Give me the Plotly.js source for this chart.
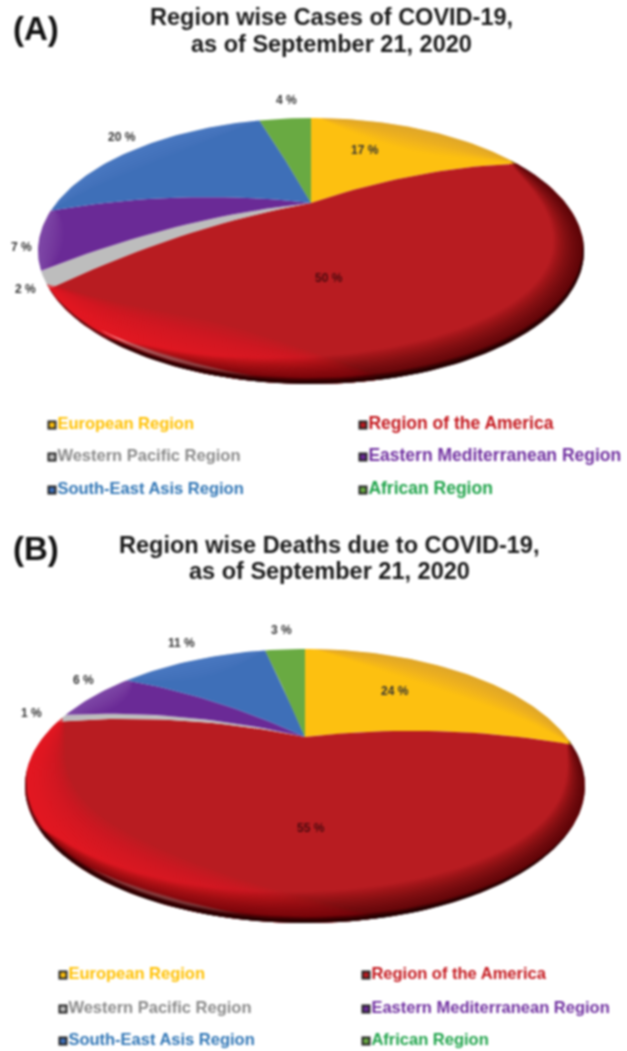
<!DOCTYPE html>
<html>
<head>
<meta charset="utf-8">
<script src="https://cdn.plot.ly/plotly-3.0.1.min.js"></script>
<style>html,body{margin:0;padding:0;background:#fff}#chart{width:627px;height:1051px;filter:blur(0.9px)}</style>
</head>
<body>
<div id="chart"></div>
<script>
// ---- data ----
const categories = ["European Region","Region of the America","Western Pacific Region","Eastern Mediterranean Region","South-East Asis Region","African Region"];
const casesPct  = [17,50,2,7,20,4];
const deathsPct = [24,55,1,6,11,3];
const sliceColors  = ["#fdc010","#b81c21","#bdbdbd","#6a2a96","#3e6fb8","#69aa42"];
const legendColors = ["#ffc000","#c4161c","#8a8a8a","#7030a0","#2f75b5","#1fa34a"];

// ---- layout of the two panels (pixels of the page) ----
const panels = [
 {values:casesPct, cx:311, cy:251, a:273, b:133, apexY:203,
  tag:"(A)", tagXY:[36,28], title:["Region wise Cases of COVID-19,","as of September 21, 2020"], titleXY:[331,17,44],
  labelXY:[[365,150],[329,278],[25,289],[21,247],[122,137],[286,100]],
  legX:[52,363], legY:[425,457,490], legSize:[16.5,17.5]},
 {values:deathsPct, cx:305, cy:786, a:280, b:137, apexY:737,
  tag:"(B)", tagXY:[36,548], title:["Region wise Deaths due to COVID-19,","as of September 21, 2020"], titleXY:[329,545,571],
  labelXY:[[395,691],[311,828],[31,713],[83,680],[181,643],[281,630]],
  legX:[63,366], legY:[975,1009,1041], legSize:[16.5,16.5]}
];
const rad = Math.PI/180;

function warp(thetaDeg){ return thetaDeg - 14*Math.sin(thetaDeg*rad); }
function rimAt(p,phi,inset){
  inset = inset||0;
  return [p.cx+(p.a-inset)*Math.sin(phi*rad), p.cy-(p.b-inset*0.8)*Math.cos(phi*rad)];
}
function edgePts(p,phi){
  const rim = rimAt(p,phi), pts=[], n=24, s=Math.abs(Math.sin(phi*rad));
  for(let i=0;i<=n;i++){
    const r=i/n;
    pts.push([p.cx+r*(rim[0]-p.cx), p.apexY+r*(rim[1]-p.apexY)-10*s*4*r*(1-r)]);
  }
  return pts;
}
function poly(pts,color,name){
  return {type:"scatter",mode:"lines",x:pts.map(q=>q[0]),y:pts.map(q=>q[1]),fill:"toself",
    fillcolor:color,line:{width:0,color:color},hoverinfo:"skip",showlegend:false,name:name||""};
}
function band(p,p1,p2,width,color,steps,base,power){
  const out=[]; base=base||0; power=power||0.8;
  for(let k=steps;k>=1;k--){
    const t=k/steps, pts=[], n=70;
    for(let i=0;i<=n;i++){ pts.push(rimAt(p,p1+(p2-p1)*i/n,base)); }
    for(let i=n;i>=0;i--){
      const u=i/n, w=Math.pow(Math.sin(Math.PI*u),power);
      pts.push(rimAt(p,p1+(p2-p1)*u,base+width*t*w));
    }
    out.push(poly(pts,color));
  }
  return out;
}

const traces=[], annotations=[];
panels.forEach(p=>{
  const total=p.values.reduce((s,v)=>s+v,0);
  const bounds=[]; let cum=0;
  p.values.forEach(v=>{ const s=warp(cum/total*360); cum+=v; bounds.push([s,warp(cum/total*360)]); });

  // slices
  p.values.forEach((v,i)=>{
    const [s,e]=bounds[i], pts=[];
    edgePts(p,s).forEach(q=>pts.push(q));
    const n=Math.max(8,Math.round(e-s));
    for(let j=1;j<n;j++) pts.push(rimAt(p,s+(e-s)*j/n));
    edgePts(p,e).reverse().forEach(q=>pts.push(q));
    traces.push(poly(pts,sliceColors[i],categories[i]));
  });

  // rim shading
  const [yS,yE]=bounds[0], [rS,rE]=bounds[1], [pS,pE]=bounds[3], [bS,bE]=bounds[4];
  band(p,yS+2,yE-1,28,"rgba(170,130,90,0.04)",10).forEach(t=>traces.push(t));
  band(p,pS-1,pE+1,24,"rgba(190,160,220,0.035)",8,0,0.5).forEach(t=>traces.push(t));
  band(p,bS,bE,24,"rgba(120,170,230,0.03)",8).forEach(t=>traces.push(t));
  band(p,165,rE+2,66,"rgba(240,25,35,0.085)",18,0,0.7).forEach(t=>traces.push(t));
  band(p,192,232,5,"rgba(255,190,190,0.42)",3,6,1).forEach(t=>traces.push(t));
  band(p,rS-2,rS+180,40,"rgba(45,0,0,0.045)",22,0,0.6).forEach(t=>traces.push(t));
  band(p,rS+35,rS+205,8,"rgba(0,0,0,0.18)",6,0,0.8).forEach(t=>traces.push(t));

  // percent labels
  p.values.forEach((v,i)=>{
    annotations.push({x:p.labelXY[i][0],y:p.labelXY[i][1],xref:"x",yref:"y",text:v+" %",showarrow:false,
      font:{family:"Liberation Sans, Arial, sans-serif",size:12,weight:700,color:i===1?"#4a0a0e":"#333333"}});
  });

  // legend
  categories.forEach((c,i)=>{
    const col=i%2, row=(i-col)/2;
    traces.push({type:"scatter",mode:"markers+text",x:[p.legX[col]],y:[p.legY[row]],text:[c],textposition:"middle right",
      cliponaxis:false,hoverinfo:"skip",showlegend:false,
      marker:{symbol:"square",size:7,color:sliceColors[i],line:{color:"#222",width:2}},
      textfont:{family:"Liberation Sans, Arial, sans-serif",size:p.legSize[col],weight:700,color:legendColors[i]}});
  });

  // titles
  annotations.push({x:p.tagXY[0],y:p.tagXY[1],xref:"x",yref:"y",text:p.tag,showarrow:false,
    font:{family:"Liberation Sans, Arial, sans-serif",size:33,weight:700,color:"#111"}});
  p.title.forEach((t,i)=>annotations.push({x:p.titleXY[0],y:p.titleXY[i+1],xref:"x",yref:"y",text:t,showarrow:false,
    font:{family:"Liberation Sans, Arial, sans-serif",size:23.5,weight:700,color:"#1a1a1a"}}));
});

const layout={width:627,height:1051,margin:{l:0,r:0,t:0,b:0},paper_bgcolor:"#fff",plot_bgcolor:"#fff",showlegend:false,
  xaxis:{range:[0,627],visible:false,fixedrange:true},
  yaxis:{range:[1051,0],visible:false,fixedrange:true},
  annotations:annotations};
Plotly.newPlot("chart",traces,layout,{staticPlot:true,displayModeBar:false});
</script>
</body>
</html>
